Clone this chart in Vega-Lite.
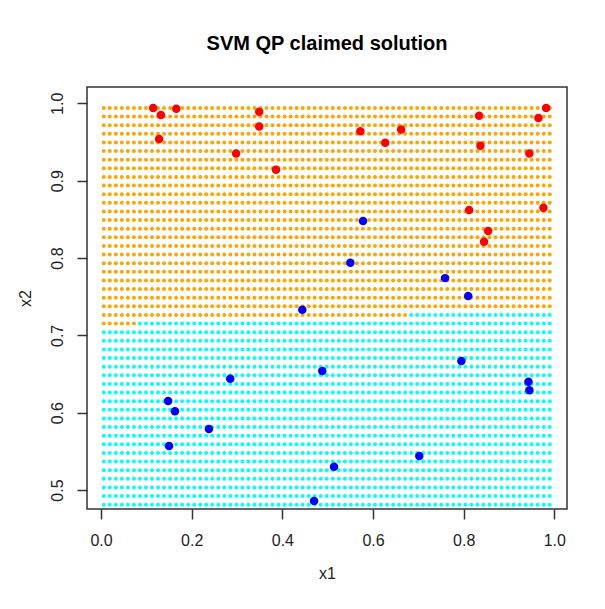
{
  "$schema": "https://vega.github.io/schema/vega-lite/v6.json",
  "width": 480,
  "height": 422,
  "autosize": "none",
  "padding": {"left": 87, "top": 87, "right": 38, "bottom": 100},
  "background": "white",
  "title": {"text": "SVM QP claimed solution", "font": "Liberation Sans", "fontSize": 20, "fontWeight": "bold", "color": "#000", "anchor": "middle", "frame": "group", "baseline": "alphabetic", "offset": 17},
  "config": {
    "view": {"stroke": "#333", "strokeWidth": 1.5},
    "axis": {"domain": false, "grid": false, "ticks": true, "tickSize": 10, "tickColor": "#333", "tickWidth": 1.5, "labelFont": "Liberation Sans", "labelFontSize": 16, "labelColor": "#222", "titleFont": "Liberation Sans", "titleFontSize": 16, "titleFontWeight": "normal", "titleColor": "#222", "labelFlush": false, "labelOverlap": false, "labelBound": false}
  },
  "datasets": {
    "grid": [
      {"x2":0.4810,"cls":"c","lo":0,"hi":2,"x1":0.006,"v":0},
      {"x2":0.4922,"cls":"c","lo":0,"hi":2,"x1":0.006,"v":0},
      {"x2":0.5033,"cls":"c","lo":0,"hi":2,"x1":0.006,"v":0},
      {"x2":0.5145,"cls":"c","lo":0,"hi":2,"x1":0.006,"v":0},
      {"x2":0.5256,"cls":"c","lo":0,"hi":2,"x1":0.006,"v":0},
      {"x2":0.5368,"cls":"c","lo":0,"hi":2,"x1":0.006,"v":0},
      {"x2":0.5479,"cls":"c","lo":0,"hi":2,"x1":0.006,"v":0},
      {"x2":0.5591,"cls":"c","lo":0,"hi":2,"x1":0.006,"v":0},
      {"x2":0.5702,"cls":"c","lo":0,"hi":2,"x1":0.006,"v":0},
      {"x2":0.5814,"cls":"c","lo":0,"hi":2,"x1":0.006,"v":0},
      {"x2":0.5925,"cls":"c","lo":0,"hi":2,"x1":0.006,"v":0},
      {"x2":0.6037,"cls":"c","lo":0,"hi":2,"x1":0.006,"v":0},
      {"x2":0.6148,"cls":"c","lo":0,"hi":2,"x1":0.006,"v":0},
      {"x2":0.6260,"cls":"c","lo":0,"hi":2,"x1":0.006,"v":0},
      {"x2":0.6371,"cls":"c","lo":0,"hi":2,"x1":0.006,"v":0},
      {"x2":0.6483,"cls":"c","lo":0,"hi":2,"x1":0.006,"v":0},
      {"x2":0.6594,"cls":"c","lo":0,"hi":2,"x1":0.006,"v":0},
      {"x2":0.6706,"cls":"c","lo":0,"hi":2,"x1":0.006,"v":0},
      {"x2":0.6817,"cls":"c","lo":0,"hi":2,"x1":0.006,"v":0},
      {"x2":0.6929,"cls":"c","lo":0,"hi":2,"x1":0.006,"v":0},
      {"x2":0.7040,"cls":"c","lo":0,"hi":2,"x1":0.006,"v":0},
      {"x2":0.7152,"cls":"o","lo":0,"hi":0.08,"x1":0.006,"v":0},
      {"x2":0.7152,"cls":"c","lo":0.08,"hi":2,"x1":0.006,"v":0},
      {"x2":0.7263,"cls":"o","lo":0,"hi":0.678,"x1":0.006,"v":0},
      {"x2":0.7263,"cls":"c","lo":0.678,"hi":2,"x1":0.006,"v":0},
      {"x2":0.7375,"cls":"o","lo":0,"hi":2,"x1":0.006,"v":0},
      {"x2":0.7486,"cls":"o","lo":0,"hi":2,"x1":0.006,"v":0},
      {"x2":0.7598,"cls":"o","lo":0,"hi":2,"x1":0.006,"v":0},
      {"x2":0.7710,"cls":"o","lo":0,"hi":2,"x1":0.006,"v":0},
      {"x2":0.7821,"cls":"o","lo":0,"hi":2,"x1":0.006,"v":0},
      {"x2":0.7932,"cls":"o","lo":0,"hi":2,"x1":0.006,"v":0},
      {"x2":0.8044,"cls":"o","lo":0,"hi":2,"x1":0.006,"v":0},
      {"x2":0.8156,"cls":"o","lo":0,"hi":2,"x1":0.006,"v":0},
      {"x2":0.8267,"cls":"o","lo":0,"hi":2,"x1":0.006,"v":0},
      {"x2":0.8378,"cls":"o","lo":0,"hi":2,"x1":0.006,"v":0},
      {"x2":0.8490,"cls":"o","lo":0,"hi":2,"x1":0.006,"v":0},
      {"x2":0.8602,"cls":"o","lo":0,"hi":2,"x1":0.006,"v":0},
      {"x2":0.8713,"cls":"o","lo":0,"hi":2,"x1":0.006,"v":0},
      {"x2":0.8824,"cls":"o","lo":0,"hi":2,"x1":0.006,"v":0},
      {"x2":0.8936,"cls":"o","lo":0,"hi":2,"x1":0.006,"v":0},
      {"x2":0.9048,"cls":"o","lo":0,"hi":2,"x1":0.006,"v":0},
      {"x2":0.9159,"cls":"o","lo":0,"hi":2,"x1":0.006,"v":0},
      {"x2":0.9270,"cls":"o","lo":0,"hi":2,"x1":0.006,"v":0},
      {"x2":0.9382,"cls":"o","lo":0,"hi":2,"x1":0.006,"v":0},
      {"x2":0.9494,"cls":"o","lo":0,"hi":2,"x1":0.006,"v":0},
      {"x2":0.9605,"cls":"o","lo":0,"hi":2,"x1":0.006,"v":0},
      {"x2":0.9716,"cls":"o","lo":0,"hi":2,"x1":0.006,"v":0},
      {"x2":0.9828,"cls":"o","lo":0,"hi":2,"x1":0.006,"v":0},
      {"x2":0.9940,"cls":"o","lo":0,"hi":2,"x1":0.006,"v":0}
    ],
    "pts": [
      {"x1":0.115,"x2":0.994,"cls":"r"},
      {"x1":0.132,"x2":0.985,"cls":"r"},
      {"x1":0.166,"x2":0.993,"cls":"r"},
      {"x1":0.128,"x2":0.954,"cls":"r"},
      {"x1":0.349,"x2":0.989,"cls":"r"},
      {"x1":0.349,"x2":0.970,"cls":"r"},
      {"x1":0.298,"x2":0.935,"cls":"r"},
      {"x1":0.386,"x2":0.914,"cls":"r"},
      {"x1":0.572,"x2":0.964,"cls":"r"},
      {"x1":0.627,"x2":0.949,"cls":"r"},
      {"x1":0.662,"x2":0.966,"cls":"r"},
      {"x1":0.834,"x2":0.984,"cls":"r"},
      {"x1":0.837,"x2":0.945,"cls":"r"},
      {"x1":0.982,"x2":0.994,"cls":"r"},
      {"x1":0.965,"x2":0.981,"cls":"r"},
      {"x1":0.945,"x2":0.935,"cls":"r"},
      {"x1":0.812,"x2":0.862,"cls":"r"},
      {"x1":0.976,"x2":0.865,"cls":"r"},
      {"x1":0.854,"x2":0.835,"cls":"r"},
      {"x1":0.845,"x2":0.821,"cls":"r"},
      {"x1":0.578,"x2":0.848,"cls":"b"},
      {"x1":0.550,"x2":0.794,"cls":"b"},
      {"x1":0.759,"x2":0.774,"cls":"b"},
      {"x1":0.810,"x2":0.751,"cls":"b"},
      {"x1":0.444,"x2":0.733,"cls":"b"},
      {"x1":0.795,"x2":0.667,"cls":"b"},
      {"x1":0.285,"x2":0.644,"cls":"b"},
      {"x1":0.488,"x2":0.654,"cls":"b"},
      {"x1":0.148,"x2":0.615,"cls":"b"},
      {"x1":0.163,"x2":0.602,"cls":"b"},
      {"x1":0.943,"x2":0.640,"cls":"b"},
      {"x1":0.945,"x2":0.629,"cls":"b"},
      {"x1":0.238,"x2":0.579,"cls":"b"},
      {"x1":0.150,"x2":0.557,"cls":"b"},
      {"x1":0.702,"x2":0.544,"cls":"b"},
      {"x1":0.514,"x2":0.530,"cls":"b"},
      {"x1":0.470,"x2":0.486,"cls":"b"}
    ]
  },
  "layer": [
    {
      "data": {"name": "grid"},
      "transform": [
        {"impute": "v", "key": "x1", "groupby": ["x2", "cls", "lo", "hi"], "value": 0,
         "keyvals": [0.006,0.0193,0.0326,0.0459,0.0592,0.0725,0.0858,0.0991,0.1124,0.1257,0.1390,0.1523,0.1656,0.1789,0.1922,0.2055,0.2188,0.2320,0.2453,0.2586,0.2719,0.2852,0.2985,0.3118,0.3251,0.3384,0.3517,0.3650,0.3783,0.3916,0.4049,0.4182,0.4315,0.4448,0.4581,0.4714,0.4847,0.4980,0.5113,0.5246,0.5379,0.5512,0.5645,0.5778,0.5911,0.6044,0.6177,0.6310,0.6443,0.6576,0.6709,0.6842,0.6975,0.7108,0.7240,0.7373,0.7506,0.7639,0.7772,0.7905,0.8038,0.8171,0.8304,0.8437,0.8570,0.8703,0.8836,0.8969,0.9102,0.9235,0.9368,0.9501,0.9634,0.9767,0.9900]},
        {"filter": "datum.x1 >= datum.lo && datum.x1 < datum.hi"}
      ],
      "mark": {"type": "circle", "size": 16, "opacity": 1},
      "encoding": {
        "x": {"field": "x1", "type": "quantitative", "scale": {"domain": [-0.031, 1.028], "nice": false, "zero": false},
              "axis": {"values": [0, 0.2, 0.4, 0.6, 0.8, 1.0], "format": ".1f", "labelPadding": 26.5, "labelBaseline": "alphabetic", "title": "x1", "titleX": 240, "titleY": 69.7, "titleAlign": "center", "titleBaseline": "alphabetic"}},
        "y": {"field": "x2", "type": "quantitative", "scale": {"domain": [0.4755, 1.0211], "nice": false, "zero": false},
              "axis": {"values": [0.5, 0.6, 0.7, 0.8, 0.9, 1.0], "format": ".1f", "labelAngle": -90, "labelAlign": "center", "labelBaseline": "alphabetic", "labelPadding": 14.5, "title": "x2", "titleX": -56.3, "titleY": 211, "titleAngle": -90, "titleAlign": "center", "titleBaseline": "alphabetic"}},
        "color": {"field": "cls", "type": "nominal", "scale": {"domain": ["o", "c", "r", "b"], "range": ["#FFA500", "#00FFFF", "#FF0000", "#0000FF"]}, "legend": null}
      }
    },
    {
      "data": {"name": "pts"},
      "mark": {"type": "circle", "size": 72, "opacity": 1},
      "encoding": {
        "x": {"field": "x1", "type": "quantitative"},
        "y": {"field": "x2", "type": "quantitative"},
        "color": {"field": "cls", "type": "nominal", "scale": {"domain": ["o", "c", "r", "b"], "range": ["#FFA500", "#00FFFF", "#FF0000", "#0000FF"]}, "legend": null}
      }
    }
  ]
}
